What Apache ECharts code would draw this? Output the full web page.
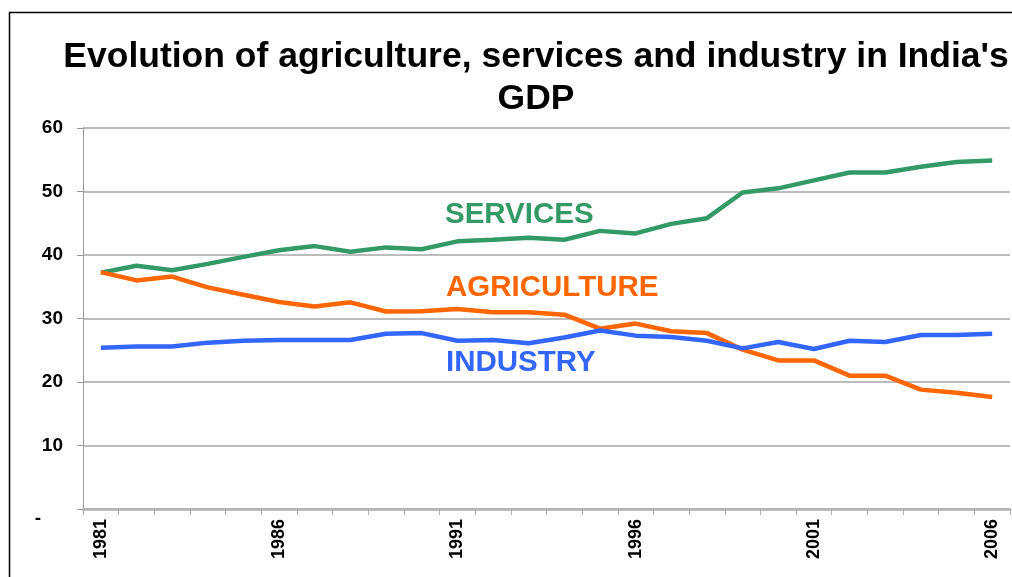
<!DOCTYPE html>
<html>
<head>
<meta charset="utf-8">
<script src="https://cdn.jsdelivr.net/npm/echarts@6/dist/echarts.min.js"></script>
<style>
html,body{margin:0;padding:0;background:#fff;}
#chart{width:1012px;height:577px;}
</style>
</head>
<body>
<div id="chart"></div>
<script>
var years = ['1981','1982','1983','1984','1985','1986','1987','1988','1989','1990','1991','1992','1993','1994','1995','1996','1997','1998','1999','2000','2001','2002','2003','2004','2005','2006'];
var services = [37.2,38.3,37.6,38.6,39.7,40.75,41.4,40.5,41.2,40.9,42.15,42.4,42.7,42.4,43.8,43.4,44.9,45.8,49.85,50.5,51.75,53.0,53.0,53.9,54.65,54.9];
var agriculture = [37.3,36.0,36.6,34.9,33.75,32.6,31.9,32.55,31.1,31.15,31.5,31.0,31.0,30.6,28.4,29.2,28.0,27.7,25.1,23.4,23.4,21.0,21.0,18.8,18.3,17.65];
var industry = [25.4,25.6,25.6,26.2,26.5,26.6,26.6,26.6,27.6,27.7,26.5,26.6,26.1,27.0,28.1,27.3,27.1,26.5,25.3,26.3,25.2,26.5,26.3,27.4,27.4,27.6];
var yTicks = {min:0, max:60, interval:10};

var chart = echarts.init(document.getElementById('chart'));
var font = 'Liberation Sans, Arial, sans-serif';
chart.setOption({
  animation:false,
  backgroundColor:'#fff',
  title:{
    text:"Evolution of agriculture, services and industry in India's\nGDP",
    left:531, top:31, textAlign:'center',
    textStyle:{fontFamily:'Liberation Sans Narrow, Liberation Sans, Arial', fontWeight:'bold', fontSize:35.5, lineHeight:42, color:'#000'}
  },
  grid:{left:83, right:2, top:128, bottom:68, containLabel:false},
  xAxis:{
    type:'category', data:years, boundaryGap:true,
    axisLine:{lineStyle:{color:'#b3b3b3', width:2.5}},
    axisTick:{show:true, interval:0, length:6, lineStyle:{color:'#aaa', width:1}},
    axisLabel:{interval:4, rotate:90, margin:10, fontFamily:font, fontWeight:'bold', fontSize:18, color:'#000'},
    splitLine:{show:false}
  },
  yAxis:{
    type:'value', min:yTicks.min, max:yTicks.max, interval:yTicks.interval,
    axisLine:{show:true, lineStyle:{color:'#999', width:1}},
    axisTick:{show:true, length:6, lineStyle:{color:'#999'}},
    splitLine:{lineStyle:{color:'#a6a6a6', width:1.5}},
    axisLabel:{margin:20, fontFamily:font, fontWeight:'bold', fontSize:19, color:'#000',
      formatter:function(v){return v===0?'{d|-}':String(v);},
      rich:{d:{fontFamily:font, fontWeight:'bold', fontSize:19, color:'#000', padding:[20,22,0,0]}}
    }
  },
  series:[
    {name:'SERVICES', type:'line', data:services, symbol:'none', lineStyle:{color:'#339966', width:4.5}, itemStyle:{color:'#339966'}},
    {name:'AGRICULTURE', type:'line', data:agriculture, symbol:'none', lineStyle:{color:'#FF6600', width:4.5}, itemStyle:{color:'#FF6600'}},
    {name:'INDUSTRY', type:'line', data:industry, symbol:'none', lineStyle:{color:'#3366FF', width:4.5}, itemStyle:{color:'#3366FF'}}
  ],
  graphic:[
    {type:'rect', shape:{x:9.5, y:12.5, width:1100, height:700}, style:{fill:'none', stroke:'#000', lineWidth:1.5}, silent:true},
    {type:'text', left:445, top:200, style:{text:'SERVICES', fill:'#339966', font:'bold 29.5px Liberation Sans, Arial'}},
    {type:'text', left:446, top:273, style:{text:'AGRICULTURE', fill:'#FF6600', font:'bold 29.5px Liberation Sans, Arial'}},
    {type:'text', left:446, top:348, style:{text:'INDUSTRY', fill:'#3366FF', font:'bold 29.5px Liberation Sans, Arial'}}
  ]
});
</script>
</body>
</html>
